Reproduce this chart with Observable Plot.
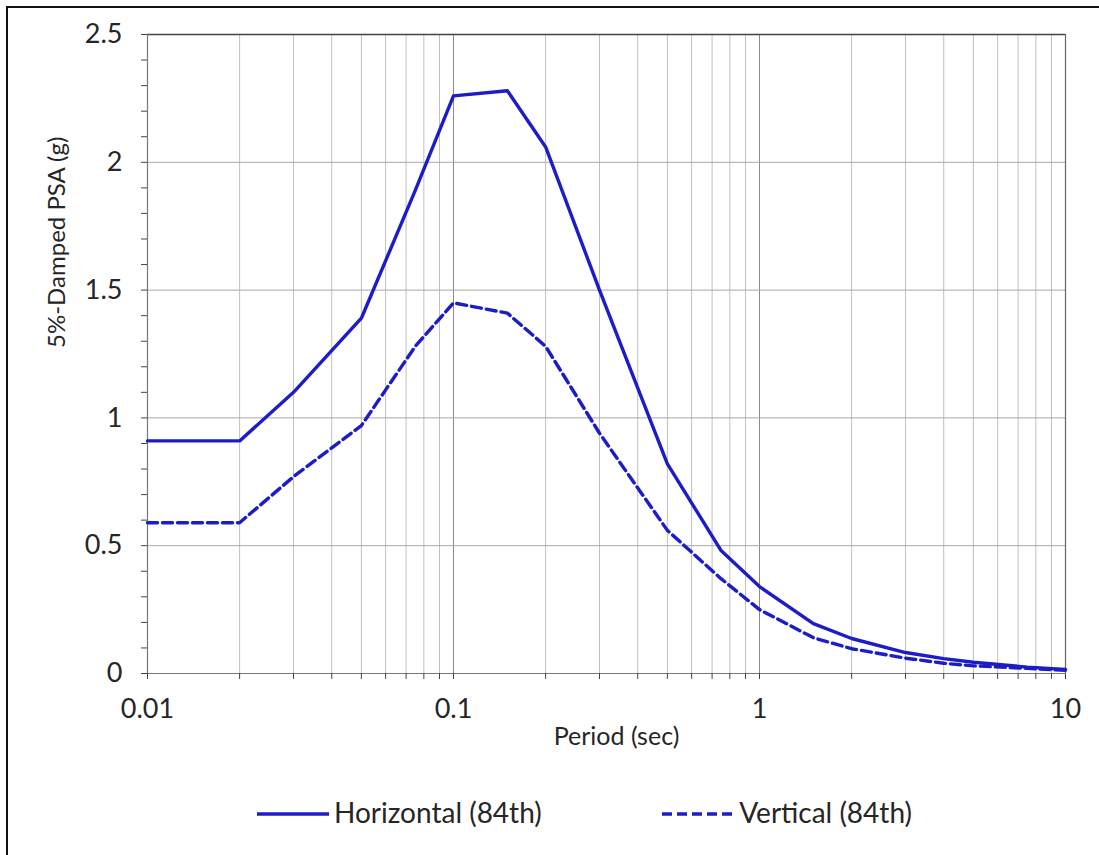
<!DOCTYPE html>
<html>
<head>
<meta charset="utf-8">
<script src="https://cdn.jsdelivr.net/npm/d3@7"></script>
<script src="https://cdn.jsdelivr.net/npm/@observablehq/plot@0.6"></script>
<style>
  html, body { margin: 0; padding: 0; background: #fff; }
  body { width: 1099px; height: 855px; position: relative; overflow: hidden; font-family: Lato, "Open Sans", sans-serif; }
  #frame { position: absolute; left: 6px; top: 6px; width: 1300px; height: 1100px; border: 2px solid #111; box-sizing: border-box; }
  #chart { position: absolute; left: 0; top: 0; }
  #legend { position: absolute; left: 0; top: 796px; width: 1099px; height: 32px; color: #262626; font-size: 28px; }
  .item { position: absolute; top: 0; display: flex; align-items: center; height: 32px; white-space: nowrap; }
  .item svg { margin-right: 5px; margin-top: 4px; }
</style>
</head>
<body>
<div id="frame"></div>
<div id="chart"></div>
<div id="legend"></div>
<script>
// Spectral periods (s) and 84th-percentile 5%-damped pseudo-spectral acceleration (g)
const periods    = [0.01, 0.02, 0.03, 0.05, 0.075, 0.1, 0.15, 0.2, 0.3, 0.5, 0.75, 1, 1.5, 2, 3, 4, 5, 7.5, 10];
const horizontal = [0.91, 0.91, 1.10, 1.39, 1.89, 2.26, 2.28, 2.06, 1.50, 0.82, 0.48, 0.34, 0.195, 0.137, 0.082, 0.058, 0.044, 0.025, 0.016];
const vertical   = [0.59, 0.59, 0.77, 0.97, 1.28, 1.45, 1.41, 1.28, 0.94, 0.56, 0.37, 0.25, 0.14, 0.097, 0.06, 0.04, 0.03, 0.02, 0.012];

const seriesNames = ["Horizontal (84th)", "Vertical (84th)"];
const seriesDash  = ["none", "10,5"];
const lineColor = "#1c1cc8";

// Axis ticks
const decades = [0.01, 0.1, 1, 10];
const xMinor = [0.02, 0.03, 0.04, 0.05, 0.06, 0.07, 0.08, 0.09,
                0.2, 0.3, 0.4, 0.5, 0.6, 0.7, 0.8, 0.9,
                2, 3, 4, 5, 6, 7, 8, 9];
const xTicks = [...decades, ...xMinor].sort((a, b) => a - b);
const xTickLabels = ["0.01", "0.1", "1", "10"];
const yMajor = [0, 0.5, 1, 1.5, 2, 2.5];
const yTickLabels = ["0", "0.5", "1", "1.5", "2", "2.5"];
const yTicks = d3.range(0, 26).map(i => i / 10);

const seriesRows = [horizontal, vertical].map(values =>
  periods.map((p, i) => ({period: p, psa: values[i]}))
);

const labelOfX = d => { const k = decades.findIndex(v => Math.abs(v - d) < 1e-9); return k >= 0 ? xTickLabels[k] : ""; };
const labelOfY = d => { const k = yMajor.findIndex(v => Math.abs(v - d) < 1e-9); return k >= 0 ? yTickLabels[k] : ""; };

const chart = Plot.plot({
  width: 1099,
  height: 760,
  marginTop: 34,
  marginBottom: 87,
  marginLeft: 147,
  marginRight: 34,
  style: {fontFamily: "Lato, 'Open Sans', sans-serif", background: "transparent", color: "#262626"},
  x: {type: "log", domain: [0.01, 10]},
  y: {domain: [0, 2.5]},
  marks: [
    // grid
    Plot.ruleX(xMinor, {stroke: "#c0c0c0", strokeWidth: 1}),
    Plot.ruleX([0.1, 1], {stroke: "#8a8a8a", strokeWidth: 1}),
    Plot.ruleY([0.5, 1, 1.5, 2], {stroke: "#a8a8a8", strokeWidth: 1}),
    Plot.ruleY([2.5], {stroke: "#444", strokeWidth: 1.5}),
    Plot.ruleX([10], {stroke: "#666", strokeWidth: 1.2}),
    Plot.ruleX([0.01], {stroke: "#777", strokeWidth: 1.2}),
    Plot.ruleY([0], {stroke: "#777", strokeWidth: 1.2}),
    // axes
    Plot.axisX({ticks: xTicks, tickFormat: labelOfX, tickSize: 6, tickPadding: 19, fontSize: 27, stroke: "#444", label: null}),
    Plot.axisY({ticks: yTicks, tickFormat: labelOfY, tickSize: 6, tickPadding: 19, fontSize: 27, stroke: "#444", label: null}),
    Plot.text(["Period (sec)"], {frameAnchor: "bottom", lineAnchor: "middle", dx: 10, dy: 63, fontSize: 25, fill: "#262626"}),
    Plot.text(["5%-Damped PSA (g)"], {frameAnchor: "left", rotate: -90, dx: -90, dy: -6, fontSize: 24, fill: "#262626"}),
    // spectra
    ...seriesRows.map((rows, s) =>
      Plot.line(rows, {x: "period", y: "psa", stroke: lineColor, strokeWidth: 3.4, strokeDasharray: seriesDash[s]})
    )
  ]
});
document.getElementById("chart").appendChild(chart);

// legend below the plot
const legend = document.getElementById("legend");
const legendPos = [{left: "257px"}, {right: "187px"}];
seriesNames.forEach((name, i) => {
  const item = document.createElement("div");
  item.className = "item";
  Object.assign(item.style, legendPos[i]);
  item.innerHTML = `<svg width="72" height="10"><line x1="0" y1="5" x2="72" y2="5" stroke="${lineColor}" stroke-width="3.4" stroke-dasharray="${seriesDash[i]}"/></svg><span>${name}</span>`;
  legend.appendChild(item);
});
</script>
</body>
</html>
